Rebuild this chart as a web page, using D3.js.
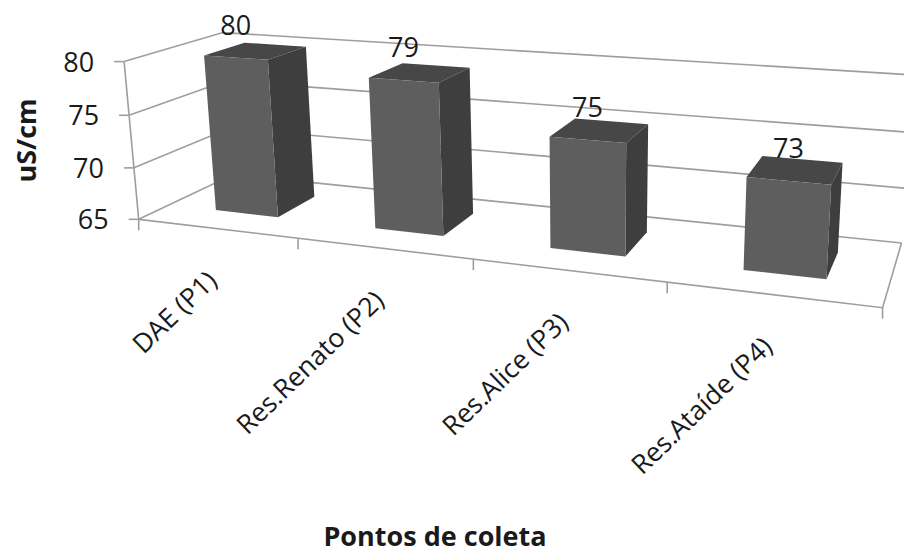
<!DOCTYPE html>
<html>
<head>
<meta charset="utf-8">
<style>
html,body{margin:0;padding:0;background:#fff}
svg{display:block}
text{font-family:"Open Sans",sans-serif;fill:#1a1a1a}
</style>
<script src="https://cdnjs.cloudflare.com/ajax/libs/d3/7.8.5/d3.min.js"></script>
</head>
<body>
<svg id="chart" width="904" height="549"></svg>
<script>
// Conductivity per sampling point
const categories = ["DAE (P1)", "Res.Renato (P2)", "Res.Alice (P3)", "Res.Ataíde (P4)"];
const values = [80, 79, 75, 73];
const valueTicks = [65, 70, 75, 80];
const yTitle = "uS/cm";
const xTitle = "Pontos de coleta";

const GRID = "#9e9e9e";
const FRONT = "#5e5e5e", TOP = "#474747", SIDE = "#3e3e3e";

// Plot box: unit cube position -> pixel position on the page
const cameraAnchors = [
  [[0,0,0],[138,220]], [[0,0,1],[125,61]],
  [[0,1,0],[234,174]], [[0,1,1],[222,33]],
  [[1,0,0],[882,307]], [[1,0,1],[895,117]],
  [[1,1,0],[902,243]], [[1,1,1],[912,75]],
  [[0.25,0,0],[298,238]], [[0.75,0,0],[667,283]]
];

// Least-squares fit of a 3D projective camera to the anchors
function fitCamera(anchors){
  const rows = [], rhs = [];
  anchors.forEach(([[a,b,c],[px,py]])=>{
    const x = px/1000, y = py/1000;
    rows.push([a,b,c,1,0,0,0,0,-x*a,-x*b,-x*c]); rhs.push(x);
    rows.push([0,0,0,0,a,b,c,1,-y*a,-y*b,-y*c]); rhs.push(y);
  });
  const n = 11;
  const M = d3.range(n).map(i=>d3.range(n+1).map(j=>
    j<n ? d3.sum(rows,(r)=>r[i]*r[j]) : d3.sum(rows,(r,k)=>r[i]*rhs[k])));
  for(let i=0;i<n;i++){
    let p=i; for(let r=i+1;r<n;r++) if(Math.abs(M[r][i])>Math.abs(M[p][i])) p=r;
    [M[i],M[p]]=[M[p],M[i]];
    for(let r=0;r<n;r++){ if(r===i) continue;
      const f=M[r][i]/M[i][i];
      for(let c=i;c<=n;c++) M[r][c]-=f*M[i][c];
    }
  }
  return M.map((r,i)=>r[n]/r[i]);
}
const cam = fitCamera(cameraAnchors);
function project(u,d,v){
  const w = cam[8]*u+cam[9]*d+cam[10]*v+1;
  return [1000*(cam[0]*u+cam[1]*d+cam[2]*v+cam[3])/w,
          1000*(cam[4]*u+cam[5]*d+cam[6]*v+cam[7])/w];
}

const xBand = d3.scaleBand().domain(categories).range([0,1]);
const yScale = d3.scaleLinear().domain([65,80]).range([0,1]);
// Bar footprint within its slot (across, then front to back)
const slotStart = 0.31, slotEnd = 0.71, nearEdge = 0.3, farEdge = 0.73;

const svg = d3.select("#chart");
const line = d3.line();
const poly = pts => line(pts)+"Z";

// Gridlines on the back wall and left wall, plus the floor outline
const grid = svg.append("g").attr("fill","none").attr("stroke",GRID).attr("stroke-width",1.6);
valueTicks.forEach(t=>{
  const v = yScale(t);
  grid.append("path").attr("d",line([project(0,0,v),project(0,1,v),project(1,1,v)]));
  const f = project(0,0,v);
  grid.append("path").attr("d",line([[f[0]-10,f[1]],f]));
});
grid.append("path").attr("d",line([project(0,0,1),project(0,0,0)]));
grid.append("path").attr("d",line([project(0,0,0),project(1,0,0),project(1,1,0)]));
d3.range(categories.length+1).forEach(i=>{
  const p = project(i/categories.length,0,0);
  grid.append("path").attr("d",line([p,[p[0],p[1]+11]]));
});

// Bars: three visible faces of each box, with the value above the front face
const bars = svg.append("g").selectAll("g").data(values).join("g");
bars.each(function(val,i){
  const u0 = xBand(categories[i])+xBand.bandwidth()*slotStart;
  const u1 = xBand(categories[i])+xBand.bandwidth()*slotEnd;
  const top = yScale(val), g = d3.select(this);
  g.append("path").attr("fill",TOP).attr("d",poly([
    project(u0,nearEdge,top),project(u1,nearEdge,top),project(u1,farEdge,top),project(u0,farEdge,top)]));
  g.append("path").attr("fill",SIDE).attr("d",poly([
    project(u1,nearEdge,top),project(u1,farEdge,top),project(u1,farEdge,0),project(u1,nearEdge,0)]));
  g.append("path").attr("fill",FRONT).attr("d",poly([
    project(u0,nearEdge,top),project(u1,nearEdge,top),project(u1,nearEdge,0),project(u0,nearEdge,0)]));
  const a = project((u0+u1)/2,nearEdge,top);
  svg.append("text").attr("x",a[0]).attr("y",a[1]-23).attr("text-anchor","middle")
    .attr("font-size",27).text(val);
});

// Value axis labels
svg.append("g").selectAll("text").data(valueTicks).join("text")
  .attr("x",t=>project(0,0,yScale(t))[0]-30)
  .attr("y",t=>project(0,0,yScale(t))[1]+10)
  .attr("text-anchor","end").attr("font-size",27).text(t=>t);

// Slanted category labels, ending just below the middle of each slot
svg.append("g").selectAll("text").data(categories).join("text")
  .attr("transform",c=>{
    const p = project(xBand(c)+xBand.bandwidth()/2,0,0);
    return `translate(${p[0]+2},${p[1]+54}) rotate(-44)`;
  })
  .attr("text-anchor","end").attr("font-size",26.5).text(c=>c);

svg.append("text").attr("transform","translate(36,140.5) rotate(-90)").attr("text-anchor","middle")
  .attr("font-size",27).attr("font-weight",700).text(yTitle);
svg.append("text").attr("x",435).attr("y",546).attr("text-anchor","middle")
  .attr("font-size",27).attr("font-weight",700).text(xTitle);
</script>
</body>
</html>
